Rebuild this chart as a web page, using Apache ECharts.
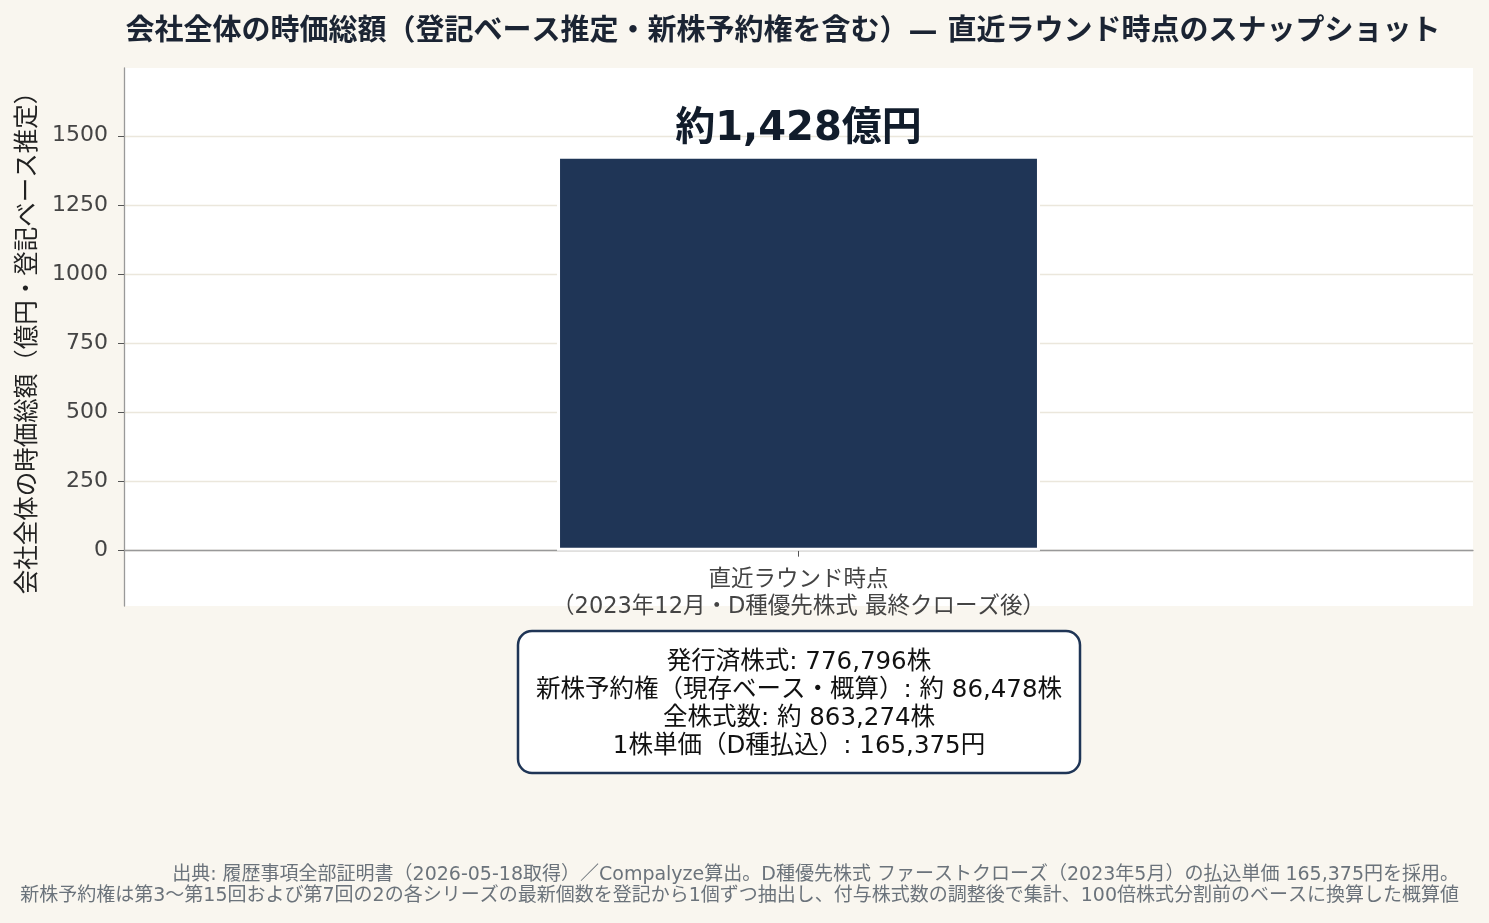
<!DOCTYPE html>
<html><head><meta charset="utf-8">
<script src="https://cdn.jsdelivr.net/npm/echarts@6/dist/echarts.min.js"></script>
<style>html,body{margin:0;padding:0;background:#f9f6ef;}#c{width:1489px;height:923px;}</style>
</head><body><div id="c"></div>
<script>
const categories = ['直近ラウンド時点\n（2023年12月・D種優先株式 最終クローズ後）'];
const valuesOku = [1427.6];
const yTicks = [0, 250, 500, 750, 1000, 1250, 1500];
const yMin = -200, yMax = 1745;
const titleText = '会社全体の時価総額（登記ベース推定・新株予約権を含む）— 直近ラウンド時点のスナップショット';
const yName = '会社全体の時価総額（億円・登記ベース推定）';
const boxLines = ['発行済株式: 776,796株', '新株予約権（現存ベース・概算）: 約 86,478株', '全株式数: 約 863,274株', '1株単価（D種払込）: 165,375円'];
const footLines = ['出典: 履歴事項全部証明書（2026-05-18取得）／Compalyze算出。D種優先株式 ファーストクローズ（2023年5月）の払込単価 165,375円を採用。',
  '新株予約権は第3〜第15回および第7回の2の各シリーズの最新個数を登記から1個ずつ抽出し、付与株式数の調整後で集計、100倍株式分割前のベースに換算した概算値'];

const FONT = '"DejaVu Sans", "Noto Sans CJK JP", sans-serif';
const GRID = { left: 124, right: 16, top: 68, bottom: 317 };
const gridH = 923 - GRID.top - GRID.bottom;
const xAxisOffset = -gridH * (0 - yMin) / (yMax - yMin);

const chart = echarts.init(document.getElementById('c'));
chart.setOption({
  backgroundColor: '#f9f6ef',
  textStyle: { fontFamily: FONT },
  title: {
    text: titleText, left: 778, top: 13, textAlign: 'center',
    textStyle: { fontFamily: FONT, fontSize: 29, fontWeight: 'bold', color: '#1b2433' }
  },
  grid: Object.assign({ show: true, backgroundColor: '#ffffff', borderWidth: 0, containLabel: false }, GRID),
  xAxis: {
    type: 'category', data: categories, position: 'bottom', offset: xAxisOffset,
    axisLine: { show: true, onZero: false, lineStyle: { color: '#999', width: 1.3 } },
    axisTick: { show: true, alignWithLabel: true, length: 6, lineStyle: { color: '#555' } },
    axisLabel: { fontFamily: FONT, fontSize: 22.5, color: '#444', lineHeight: 27, margin: 16 },
    splitLine: { show: false }
  },
  yAxis: {
    type: 'value', min: yMin, max: yMax,
    name: yName, nameLocation: 'middle', nameRotate: 90, nameGap: 82,
    nameTextStyle: { fontFamily: FONT, fontSize: 24.5, color: '#222' },
    axisLine: { show: true, lineStyle: { color: '#999', width: 1.3 } },
    axisTick: { show: true, length: 6, customValues: yTicks, lineStyle: { color: '#555' } },
    axisLabel: { fontFamily: FONT, fontSize: 22, color: '#444', margin: 16, customValues: yTicks, formatter: v => String(v) },
    splitLine: { show: true, customValues: yTicks, lineStyle: { color: '#ebe7dc', width: 1.3 } }
  },
  series: [{
    type: 'bar', data: valuesOku, barWidth: '35.8%',
    itemStyle: { color: '#1f3556', borderColor: '#ffffff', borderWidth: 3 },
    label: {
      show: true, position: 'top', distance: 6,
      formatter: p => '約' + Math.round(p.value).toLocaleString('en-US') + '億円',
      fontFamily: FONT, fontSize: 40, fontWeight: 'bold', color: '#111c2b'
    }
  }],
  graphic: [
    {
      type: 'rect', z: 10,
      shape: { x: 518, y: 631, width: 562, height: 142, r: 14 },
      style: { fill: '#fff', stroke: '#1f3556', lineWidth: 2.5 }
    },
    {
      type: 'text', x: 799, y: 705, z: 11,
      style: {
        text: boxLines.join('\n'), font: '24.5px ' + FONT, fill: '#111', align: 'center', verticalAlign: 'middle',
        lineHeight: 28
      }
    },
    {
      type: 'text', x: 1459, y: 865, z: 10,
      style: { text: footLines.join('\n'), font: '19px ' + FONT, fill: '#6b737b', align: 'right', verticalAlign: 'top', lineHeight: 21 }
    }
  ]
});
</script></body></html>
